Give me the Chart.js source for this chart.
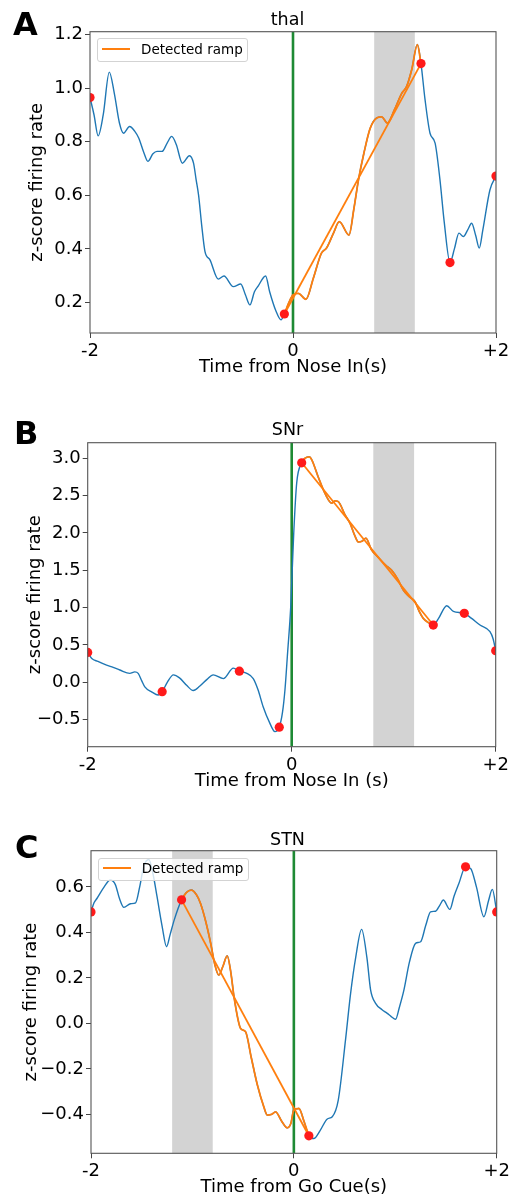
<!DOCTYPE html>
<html><head><meta charset="utf-8">
<script src="https://cdn.jsdelivr.net/npm/chart.js@4.4.1/dist/chart.umd.min.js"></script>
<style>
body{margin:0;background:#fff;width:509px;height:1199px;position:relative;overflow:hidden;font-family:'DejaVu Sans',sans-serif;color:#000;}
canvas{position:absolute;left:0;}
.lbl{position:absolute;font-weight:bold;font-size:32px;line-height:32px;}
.ttl{position:absolute;font-size:17.5px;line-height:17.5px;transform:translateX(-50%);white-space:nowrap;}
.leg{position:absolute;box-sizing:border-box;border:1px solid #d3d3d3;border-radius:3px;background:rgba(255,255,255,0.8);}
.leg .ln{position:absolute;height:0;border-top:2px solid #ff7f0e;}
.leg .tx{position:absolute;font-size:13.5px;line-height:13.5px;white-space:nowrap;}
</style></head>
<body>
<canvas id="cA" width="509" height="400" style="top:0px"></canvas>
<canvas id="cB" width="509" height="400" style="top:400px"></canvas>
<canvas id="cC" width="509" height="399" style="top:800px"></canvas>

<div class="lbl" style="left:13px;top:8px">A</div>
<div class="lbl" style="left:14px;top:417px">B</div>
<div class="lbl" style="left:15px;top:831px">C</div>

<div class="ttl" style="left:287.5px;top:11.2px">thal</div>
<div class="ttl" style="left:287.5px;top:421.2px">SNr</div>
<div class="ttl" style="left:287.5px;top:830.9px">STN</div>

<div class="leg" style="left:96.7px;top:38.3px;width:151.6px;height:24px">
  <div class="ln" style="left:4px;top:9px;width:28px"></div>
  <div class="tx" style="left:43.3px;top:3.6px">Detected ramp</div>
</div>
<div class="leg" style="left:97.7px;top:857.7px;width:151.6px;height:23.3px">
  <div class="ln" style="left:4px;top:8.6px;width:28px"></div>
  <div class="tx" style="left:43px;top:3.3px">Detected ramp</div>
</div>

<script>
// ---------- shared axis data ----------
const xTickValues = [-2, 0, 2];
const xTickLabels = ['-2', '0', '+2'];

// ---------- Panel A : thal ----------
const traceTimeA = [-2.00,-1.96,-1.92,-1.87,-1.81,-1.76,-1.71,-1.67,-1.61,-1.56,-1.52,-1.47,-1.43,-1.38,-1.34,-1.29,-1.24,-1.195,-1.15,-1.09,-1.02,-0.98,-0.955,-0.93,-0.90,-0.867,-0.818,-0.736,-0.68,-0.588,-0.515,-0.47,-0.424,-0.38,-0.342,-0.27,-0.23,-0.17,-0.118,-0.085,-0.04,0.00,0.052,0.128,0.20,0.28,0.33,0.40,0.456,0.552,0.60,0.645,0.70,0.76,0.825,0.874,0.93,1.00,1.07,1.12,1.17,1.225,1.261,1.30,1.35,1.40,1.448,1.49,1.547,1.59,1.635,1.678,1.72,1.76,1.80,1.835,1.87,1.94,2.00];
const traceValueA = [0.965,0.90,0.822,0.90,1.06,0.98,0.87,0.832,0.857,0.84,0.814,0.76,0.727,0.755,0.764,0.764,0.795,0.82,0.79,0.72,0.748,0.72,0.66,0.60,0.49,0.39,0.359,0.287,0.299,0.259,0.269,0.23,0.191,0.24,0.262,0.299,0.24,0.17,0.135,0.157,0.20,0.228,0.234,0.212,0.29,0.384,0.403,0.46,0.502,0.452,0.55,0.658,0.76,0.85,0.889,0.893,0.87,0.92,0.98,1.007,1.07,1.163,1.092,0.96,0.832,0.795,0.658,0.50,0.349,0.40,0.459,0.446,0.47,0.496,0.45,0.403,0.47,0.62,0.672];
const fitTimeA = [-0.085, 1.261];
const fitValueA = [0.157, 1.092];
const dotTimeA = [-2.0, -0.085, 1.261, 1.547, 2.0];
const dotValueA = [0.965, 0.157, 1.092, 0.349, 0.672];
const bandA = [0.8, 1.2];
const yRangeA = [0.086, 1.211];
const yTickValuesA = [0.2, 0.4, 0.6, 0.8, 1.0, 1.2];
const yTickLabelsA = ['0.2', '0.4', '0.6', '0.8', '1.0', '1.2'];

// ---------- Panel B : SNr ----------
const traceTimeB = [-2.00,-1.96,-1.90,-1.815,-1.75,-1.685,-1.587,-1.538,-1.505,-1.47,-1.44,-1.37,-1.31,-1.27,-1.22,-1.16,-1.10,-1.03,-0.965,-0.90,-0.83,-0.77,-0.67,-0.572,-0.513,-0.44,-0.377,-0.33,-0.279,-0.22,-0.164,-0.122,-0.09,-0.066,-0.04,-0.01,0.02,0.049,0.098,0.13,0.173,0.20,0.26,0.33,0.392,0.425,0.457,0.52,0.572,0.62,0.653,0.69,0.728,0.78,0.85,0.92,0.98,1.04,1.094,1.15,1.209,1.25,1.29,1.34,1.388,1.44,1.52,1.585,1.692,1.76,1.846,1.944,1.975,2.00];
const traceValueB = [0.40,0.32,0.28,0.23,0.20,0.165,0.12,0.14,0.12,0.02,-0.06,-0.13,-0.17,-0.125,0.0,0.10,0.06,-0.04,-0.11,-0.05,0.04,0.10,0.05,0.19,0.15,0.12,0.05,-0.10,-0.33,-0.53,-0.66,-0.60,-0.40,-0.10,0.40,1.0,2.0,2.67,2.94,3.00,3.02,2.97,2.75,2.52,2.40,2.43,2.42,2.25,2.13,1.96,1.88,1.89,1.93,1.78,1.67,1.57,1.50,1.38,1.236,1.15,1.08,0.95,0.857,0.80,0.767,0.857,1.026,0.95,0.924,0.86,0.767,0.678,0.58,0.423];
const fitTimeB = [0.098, 1.388];
const fitValueB = [2.94, 0.767];
const dotTimeB = [-2.0, -1.27, -0.513, -0.122, 0.098, 1.388, 1.692, 2.0];
const dotValueB = [0.40, -0.125, 0.15, -0.60, 2.94, 0.767, 0.924, 0.423];
const bandB = [0.8, 1.2];
const yRangeB = [-0.862, 3.209];
const yTickValuesB = [-0.5, 0.0, 0.5, 1.0, 1.5, 2.0, 2.5, 3.0];
const yTickLabelsB = ['\u22120.5', '0.0', '0.5', '1.0', '1.5', '2.0', '2.5', '3.0'];

// ---------- Panel C : STN ----------
const traceTimeC = [-2.00,-1.97,-1.94,-1.87,-1.81,-1.76,-1.72,-1.676,-1.61,-1.56,-1.52,-1.48,-1.43,-1.39,-1.35,-1.30,-1.255,-1.22,-1.18,-1.107,-1.06,-1.012,-0.96,-0.92,-0.87,-0.82,-0.78,-0.74,-0.70,-0.657,-0.62,-0.59,-0.525,-0.476,-0.42,-0.36,-0.296,-0.262,-0.22,-0.18,-0.12,-0.065,-0.03,0.00,0.05,0.10,0.148,0.197,0.26,0.33,0.379,0.438,0.51,0.559,0.61,0.668,0.72,0.757,0.806,0.87,0.921,0.96,1.003,1.04,1.085,1.14,1.20,1.25,1.30,1.348,1.397,1.44,1.473,1.538,1.58,1.627,1.693,1.743,1.80,1.874,1.92,1.957,2.00];
const traceValueC = [0.49,0.53,0.55,0.60,0.63,0.61,0.55,0.51,0.526,0.53,0.60,0.69,0.72,0.66,0.56,0.43,0.337,0.39,0.454,0.543,0.575,0.586,0.565,0.527,0.45,0.352,0.26,0.212,0.25,0.297,0.22,0.117,-0.022,-0.037,-0.15,-0.27,-0.367,-0.403,-0.40,-0.389,-0.43,-0.459,-0.44,-0.38,-0.374,-0.43,-0.494,-0.506,-0.47,-0.42,-0.41,-0.337,-0.07,0.13,0.29,0.413,0.29,0.146,0.088,0.06,0.044,0.03,0.018,0.07,0.146,0.27,0.352,0.359,0.43,0.49,0.493,0.52,0.542,0.501,0.56,0.615,0.688,0.681,0.60,0.469,0.54,0.589,0.49];
const fitTimeC = [-1.107, 0.148];
const fitValueC = [0.543, -0.494];
const dotTimeC = [-2.0, -1.107, 0.148, 1.693, 2.0];
const dotValueC = [0.49, 0.543, -0.494, 0.688, 0.49];
const bandC = [-1.2, -0.8];
const yRangeC = [-0.571, 0.759];
const yTickValuesC = [-0.4, -0.2, 0.0, 0.2, 0.4, 0.6];
const yTickLabelsC = ['\u22120.4', '\u22120.2', '0.0', '0.2', '0.4', '0.6'];

const FONT = 'DejaVu Sans';
const FSIZE = 18;

const bandFrame = {
  id: 'bandFrame',
  beforeDatasetsDraw(chart, args, opts) {
    const {ctx, chartArea: a, scales: {x}} = chart;
    const x0 = x.getPixelForValue(opts.from), x1 = x.getPixelForValue(opts.to);
    ctx.save();
    ctx.fillStyle = '#d3d3d3';
    ctx.fillRect(x0, a.top, x1 - x0, a.bottom - a.top);
    ctx.restore();
  },
  afterDatasetsDraw(chart) {
    const {ctx, chartArea: a} = chart;
    ctx.save();
    ctx.strokeStyle = '#555';
    ctx.lineWidth = 1.1;
    ctx.strokeRect(a.left, a.top, a.right - a.left, a.bottom - a.top);
    ctx.restore();
  }
};

function makePanel(id, p) {
  const trace = p.tt.map((t, i) => ({x: t, y: p.tv[i]}));
  const ramp = trace.filter(q => q.x >= p.ft[0] - 1e-9 && q.x <= p.ft[1] + 1e-9);
  const fit = p.ft.map((t, i) => ({x: t, y: p.fv[i]}));
  const dots = p.dt.map((t, i) => ({x: t, y: p.dv[i]}));
  const cue = [{x: 0, y: p.yr[0]}, {x: 0, y: p.yr[1]}];
  const half = FSIZE * 1.2 / 2;
  const xh = 34.5 + half;
  const tickFont = {family: FONT, size: FSIZE};
  new Chart(document.getElementById(id), {
    type: 'line',
    data: {datasets: [
      {label: 'peaks', data: dots, showLine: false, pointRadius: 4.6, pointBackgroundColor: '#ff1a1a', pointBorderWidth: 0, pointBorderColor: '#ff1a1a', order: 0, clip: 0},
      {label: 'Detected ramp', data: fit, borderColor: '#ff7f0e', borderWidth: 1.8, pointRadius: 0, tension: 0, order: 1, clip: 0},
      {label: 'ramp', data: ramp, borderColor: '#ff7f0e', borderWidth: 1.8, pointRadius: 0, cubicInterpolationMode: 'monotone', order: 1, clip: 0},
      {label: 'trace', data: trace, borderColor: '#1f77b4', borderWidth: 1.4, pointRadius: 0, cubicInterpolationMode: 'monotone', order: 2, clip: 0},
      {label: 'cue', data: cue, borderColor: '#1e8a34', borderWidth: 2.6, pointRadius: 0, order: 3, clip: 0}
    ]},
    options: {
      responsive: false, animation: false, events: [],
      layout: {padding: {left: 0, right: 509 - p.area.right, top: p.area.top, bottom: p.h - p.area.bottom - xh}},
      plugins: {legend: {display: false}, tooltip: {enabled: false}, bandFrame: {from: p.band[0], to: p.band[1]}},
      scales: {
        x: {
          type: 'linear', min: -2, max: 2,
          afterBuildTicks: a => { a.ticks = xTickValues.map(v => ({value: v})); },
          afterFit: s => { s.height = xh; s.paddingLeft = 0; s.paddingRight = 0; },
          ticks: {callback: (v, i) => xTickLabels[i], font: tickFont, color: '#000', padding: 2.5, maxRotation: 0, autoSkip: false},
          grid: {display: true, drawOnChartArea: false, drawTicks: true, tickLength: 5, color: '#444'},
          border: {display: false},
          title: {display: true, text: p.xlabel, font: tickFont, color: '#000', padding: {top: 0, bottom: 0}}
        },
        y: {
          type: 'linear', min: p.yr[0], max: p.yr[1],
          afterBuildTicks: a => { a.ticks = p.yt.map(v => ({value: v})); },
          afterFit: s => { s.width = p.area.left; s.paddingTop = 0; s.paddingBottom = 0; },
          ticks: {callback: (v, i) => p.yl[i], font: tickFont, color: '#000', padding: 2, autoSkip: false},
          grid: {display: true, drawOnChartArea: false, drawTicks: true, tickLength: 5, color: '#444'},
          border: {display: false},
          title: {display: true, text: 'z-score firing rate', font: tickFont, color: '#000', padding: {top: p.ytx - half, bottom: 0}}
        }
      }
    },
    plugins: [bandFrame]
  });
}

makePanel('cA', {tt: traceTimeA, tv: traceValueA, ft: fitTimeA, fv: fitValueA, dt: dotTimeA, dv: dotValueA,
  band: bandA, yr: yRangeA, yt: yTickValuesA, yl: yTickLabelsA, xlabel: 'Time from Nose In(s)',
  area: {left: 90, right: 496, top: 31.7, bottom: 333}, h: 400, ytx: 37.5});
makePanel('cB', {tt: traceTimeB, tv: traceValueB, ft: fitTimeB, fv: fitValueB, dt: dotTimeB, dv: dotValueB,
  band: bandB, yr: yRangeB, yt: yTickValuesB, yl: yTickLabelsB, xlabel: 'Time from Nose In (s)',
  area: {left: 87.7, right: 495.7, top: 42.7, bottom: 346.7}, h: 400, ytx: 35});
makePanel('cC', {tt: traceTimeC, tv: traceValueC, ft: fitTimeC, fv: fitValueC, dt: dotTimeC, dv: dotValueC,
  band: bandC, yr: yRangeC, yt: yTickValuesC, yl: yTickLabelsC, xlabel: 'Time from Go Cue(s)',
  area: {left: 91, right: 496.7, top: 50.7, bottom: 353.3}, h: 399, ytx: 31});
</script>
</body></html>
